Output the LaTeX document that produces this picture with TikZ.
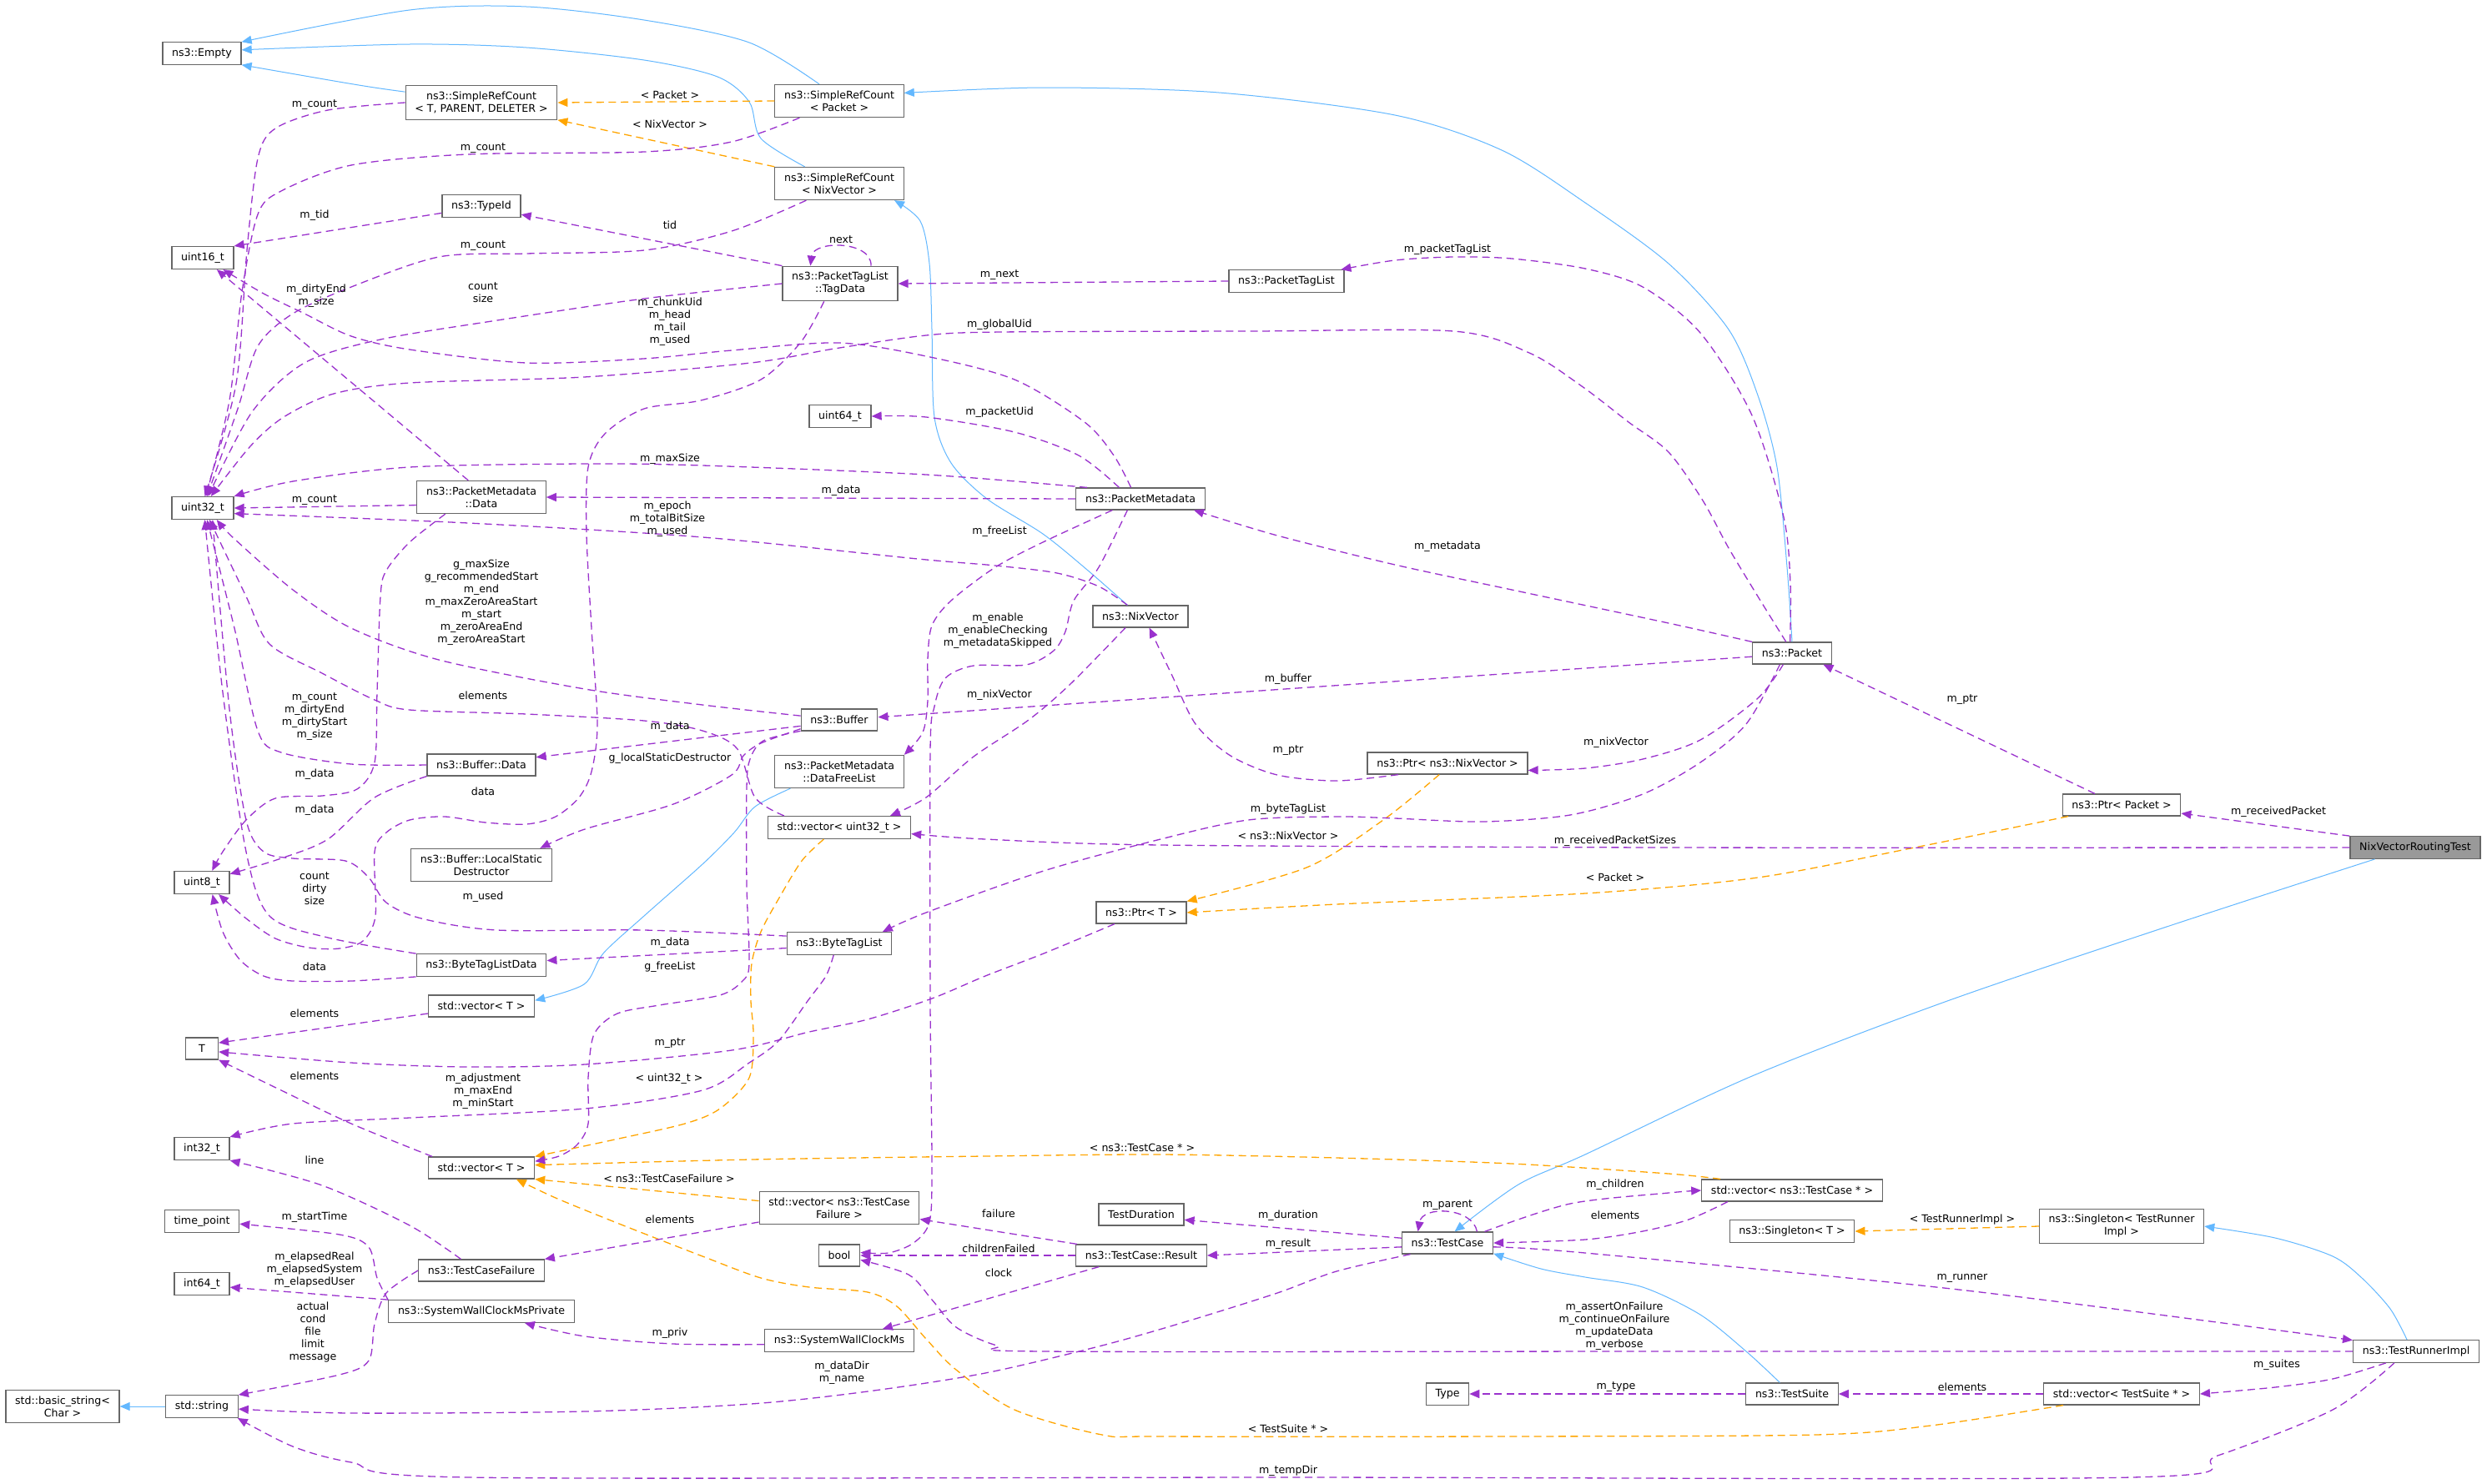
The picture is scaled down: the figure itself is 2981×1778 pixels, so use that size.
\documentclass[tikz,border=0pt]{standalone}
\usepackage{fontspec}
\newfontfamily\dxfont{DejaVu Sans}
\usetikzlibrary{arrows.meta}
\definecolor{dxpurple}{HTML}{9A32CD}
\definecolor{dxorange}{HTML}{FFA500}
\definecolor{dxblue}{HTML}{63B8FF}
\definecolor{dxborder}{HTML}{666666}
\definecolor{dxfill}{HTML}{999999}
\begin{document}
\begin{tikzpicture}[x=0.5pt, y=-0.5pt,
    cls/.style={draw=dxborder, fill=white, line width=0.6pt, font=\dxfont\fontsize{6.3}{7.5}\selectfont,
      align=center, inner xsep=5.6pt, inner ysep=3.6pt, minimum height=13pt},
    clscur/.style={cls, fill=dxfill},
    lbl/.style={font=\dxfont\fontsize{6.3}{7.5}\selectfont, align=center, inner sep=0pt},
    useline/.style={draw=dxpurple, line width=0.65pt, dash pattern=on 4.5pt off 2.8pt,
      -{Triangle[length=6pt,width=5pt]}},
    tmplline/.style={useline, draw=dxorange},
    inhline/.style={draw=dxblue, line width=0.5pt, -{Triangle[length=6pt,width=5pt]}}]
  \path[use as bounding box, fill=white] (0,0) rectangle (2981,1778);
  % nodes
  \node[cls] (empty) at (242,64) {ns3::Empty};
  \node[cls] (srct) at (577,123) {ns3::SimpleRefCount\\< T, PARENT, DELETER >};
  \node[cls] (srcpkt) at (1006,121) {ns3::SimpleRefCount\\< Packet >};
  \node[cls] (srcnix) at (1006,220) {ns3::SimpleRefCount\\< NixVector >};
  \node[cls] (typeid) at (577,247) {ns3::TypeId};
  \node[cls] (uint16) at (243,309) {uint16\_t};
  \node[cls] (tagdata) at (1007,340) {ns3::PacketTagList\\::TagData};
  \node[cls] (ptaglist) at (1542,337) {ns3::PacketTagList};
  \node[cls] (uint64) at (1007,499) {uint64\_t};
  \node[cls] (pmdata) at (577,596) {ns3::PacketMetadata\\::Data};
  \node[cls] (uint32) at (243,609) {uint32\_t};
  \node[cls] (pmeta) at (1367,598) {ns3::PacketMetadata};
  \node[cls] (nixvec) at (1367,739) {ns3::NixVector};
  \node[cls] (packet) at (2148,783) {ns3::Packet};
  \node[cls] (buffer) at (1006,863) {ns3::Buffer};
  \node[cls] (bufdata) at (577,917) {ns3::Buffer::Data};
  \node[cls] (freelist) at (1006,925) {ns3::PacketMetadata\\::DataFreeList};
  \node[cls] (ptrnix) at (1735,915) {ns3::Ptr< ns3::NixVector >};
  \node[cls] (ptrpkt) at (2543,965) {ns3::Ptr< Packet >};
  \node[cls] (vecu32) at (1006,992) {std::vector< uint32\_t >};
  \node[clscur] (nvrt) at (2895,1016) {NixVectorRoutingTest};
  \node[cls] (lsd) at (577,1037) {ns3::Buffer::LocalStatic\\Destructor};
  \node[cls] (uint8) at (242,1058) {uint8\_t};
  \node[cls] (ptrt) at (1368,1094) {ns3::Ptr< T >};
  \node[cls] (btl) at (1006,1131) {ns3::ByteTagList};
  \node[cls] (btldata) at (577,1157) {ns3::ByteTagListData};
  \node[cls] (vect1) at (577,1206) {std::vector< T >};
  \node[cls, minimum width=19.5pt] (tnode) at (242,1257) {T};
  \node[cls] (int32) at (242,1377) {int32\_t};
  \node[cls] (vect2) at (577,1400) {std::vector< T >};
  \node[cls] (vectc) at (2148,1427) {std::vector< ns3::TestCase * >};
  \node[cls] (vectcf) at (1006,1448) {std::vector< ns3::TestCase\\Failure >};
  \node[cls] (tduration) at (1368,1456) {TestDuration};
  \node[cls] (timepoint) at (242,1464) {time\_point};
  \node[cls] (singtri) at (2543,1470) {ns3::Singleton< TestRunner\\Impl >};
  \node[cls] (singt) at (2148,1476) {ns3::Singleton< T >};
  \node[cls] (testcase) at (1735,1490) {ns3::TestCase};
  \node[cls] (tcresult) at (1368,1505) {ns3::TestCase::Result};
  \node[cls] (boolnode) at (1006,1505) {bool};
  \node[cls] (tcfailure) at (577,1523) {ns3::TestCaseFailure};
  \node[cls] (int64) at (242,1539) {int64\_t};
  \node[cls] (swcmp) at (577,1572) {ns3::SystemWallClockMsPrivate};
  \node[cls] (swcm) at (1006,1607) {ns3::SystemWallClockMs};
  \node[cls] (tri) at (2896,1620) {ns3::TestRunnerImpl};
  \node[cls] (typenode) at (1735,1671) {Type};
  \node[cls] (tsuite) at (2148,1671) {ns3::TestSuite};
  \node[cls] (vects) at (2543,1671) {std::vector< TestSuite * >};
  \node[cls] (bstring) at (75,1686) {std::basic\_string<\\Char >};
  \node[cls] (string) at (242,1686) {std::string};
  % inheritance
  \draw[inhline] (srct.172) .. controls (440,104) .. (empty.south east);
  \draw[inhline] plot[smooth] coordinates {(srcpkt.140) (898,51) (772,24) (631,8) (491,12) (empty.north east)};
  \draw[inhline] plot[smooth] coordinates {(srcnix.154) (912,166) (898,122) (860,92) (772,72) (631,57) (491,53) (empty.5)};
  \draw[inhline] plot[smooth] coordinates {(packet.north) (2142,680) (2130,560) (2107,474) (2072,395) (2000,316) (1900,243) (1800,180) (1672,138) (1461,111) (1251,105) (srcpkt.7)};
  \draw[inhline] plot[smooth] coordinates {(nixvec.139) (1303,683) (1250,640) (1183,598) (1140,555) (1120,500) (1117,395) (1114,316) (1103,265) (srcnix.-17)};
  \draw[inhline] plot[smooth] coordinates {(freelist.199) (905,967) (880,998) (842,1036) (772,1098) (723,1143) (700,1180) (vect1.6)};
  \draw[inhline] plot[smooth] coordinates {(nvrt.196) (2600,1110) (2334,1200) (2100,1290) (1900,1384) (1820,1420) (testcase.58)};
  \draw[inhline] plot[smooth] coordinates {(tsuite.137) (2093,1620) (2038,1576) (1969,1543) (1900,1531) (1847,1521) (testcase.-13)};
  \draw[inhline] plot[smooth] coordinates {(tri.128) (2865,1569) (2831,1532) (2796,1506) (2727,1484) (singtri.east)};
  \draw[inhline] (string.west) -- (bstring.east);
  % templates
  \draw[tmplline] (srcpkt.west) -- (srct.east);
  \draw[tmplline] (srcnix.north west) -- (srct.south east);
  \draw[tmplline] plot[smooth] coordinates {(vecu32.217) (961,1032) (933,1078) (912,1117) (901,1155) (900,1200) (903,1240) (898,1292) (863,1329) (821,1347) (737,1366) (vect2.north east)};
  \draw[tmplline] plot[smooth] coordinates {(vectc.171) (2000,1407) (1812,1395) (1602,1388) (1391,1384) (1181,1386) (900,1390) (vect2.3)};
  \draw[tmplline] (vectcf.175) -- (vect2.south east);
  \draw[tmplline] plot[smooth] coordinates {(vects.191) (2314,1709) (2176,1720) (1800,1722) (1391,1722) (1321,1720) (1216,1690) (1146,1642) (1110,1605) (1075,1566) (1040,1549) (970,1543) (912,1532) (842,1506) (737,1465) (666,1436) (vect2.-18)};
  \draw[tmplline] plot[smooth] coordinates {(ptrnix.234) (1658,983) (1566,1040) (ptrt.north east)};
  \draw[tmplline] plot[smooth] coordinates {(ptrpkt.192) (2300,1015) (2107,1052) (1900,1071) (1602,1084) (ptrt.east)};
  \draw[tmplline] (singtri.west) -- (singt.east);
  % members
  \draw[useline] plot[smooth] coordinates {(srct.west) (393,132) (330,154) (309,190) (296,300) (283,460) (uint32.80)};
  \draw[useline] plot[smooth] coordinates {(srcpkt.203) (877,170) (772,182) (561,185) (421,198) (337,229) (309,257) (290,350) (275,480) (uint32.75)};
  \draw[useline] plot[smooth] coordinates {(srcnix.207) (877,277) (772,300) (631,304) (526,308) (421,344) (351,376) (309,415) (285,490) (uint32.70)};
  \draw[useline] plot[smooth] coordinates {(tagdata.west) (772,358) (596,384) (456,407) (365,435) (302,494) (uint32.65)};
  \draw[useline] plot[smooth] coordinates {(packet.118) (2107,715) (2072,657) (2041,600) (2000,542) (1952,506) (1896,463) (1833,423) (1742,397) (1500,397) (1200,398) (1110,402) (1000,418) (900,435) (700,452) (491,459) (400,472) (340,500) (300,535) (uint32.55)};
  \draw[useline] plot[smooth] coordinates {(pmeta.168) (1110,569) (842,558) (700,556) (491,560) (351,577) (uint32.north east)};
  \draw[useline] (pmdata.187) -- (uint32.east);
  \draw[useline] (pmeta.west) -- (pmdata.east);
  \draw[useline] plot[smooth] coordinates {(nixvec.139) (1317,703) (1267,687) (1193,678) (1100,670) (842,644) (561,627) (uint32.-10)};
  \draw[useline] plot[smooth] coordinates {(buffer.174) (842,845) (701,826) (526,791) (421,753) (351,707) (281,646) (uint32.-40)};
  \draw[useline] plot[smooth] coordinates {(vecu32.168) (905,956) (884,898) (842,876) (772,864) (631,856) (491,851) (449,839) (386,807) (323,772) (295,715) (uint32.-60)};
  \draw[useline] plot[smooth] coordinates {(bufdata.west) (421,916) (337,902) (309,876) (281,753) (uint32.-70)};
  \draw[useline] plot[smooth] coordinates {(btldata.north west) (393,1124) (323,1098) (295,1021) (267,830) (uint32.-80)};
  \draw[useline] plot[smooth] coordinates {(btl.172) (772,1115) (596,1115) (505,1101) (463,1082) (442,1052) (414,1032) (351,1029) (316,1021) (295,983) (275,850) (uint32.-50)};
  \draw[useline] (typeid.190) -- (uint16.north east);
  \draw[useline] (pmdata.128) -- (uint16.-40);
  \draw[useline] plot[smooth] coordinates {(pmeta.130) (1335,546) (1300,506) (1216,455) (1110,427) (1005,411) (877,420) (771,430) (631,435) (491,419) (421,403) (365,376) (316,352) (uint16.-30)};
  \draw[useline] (tagdata.north west) -- (typeid.-12);
  \draw[useline] (tagdata.30) .. controls (1045,288) and (975,288) .. (tagdata.149);
  \draw[useline] plot[smooth] coordinates {(pmeta.152) (1293,546) (1216,518) (1110,500) (uint64.east)};
  \draw[useline] plot[smooth] coordinates {(packet.100) (2146,700) (2138,620) (2100,498) (2038,399) (1969,344) (1900,322) (1812,310) (1742,308) (1672,312) (ptaglist.12)};
  \draw[useline] (ptaglist.west) -- (tagdata.east);
  \draw[useline] plot[smooth] coordinates {(packet.north west) (2000,747) (1812,707) (1672,677) (1531,642) (pmeta.-12)};
  \draw[useline] plot[smooth] coordinates {(ptrnix.193) (1602,936) (1531,929) (1475,906) (1433,868) (1405,810) (nixvec.-52)};
  \draw[useline] (ptrpkt.157) -- (packet.-20);
  \draw[useline] (nvrt.170) -- (ptrpkt.-8);
  \draw[useline] plot[smooth] coordinates {(nvrt.west) (2000,1016) (1391,1013) (1181,1006) (vecu32.-5)};
  \draw[useline] (packet.185) -- (buffer.4);
  \draw[useline] plot[smooth] coordinates {(packet.232) (2107,837) (2038,887) (1969,910) (1900,921) (ptrnix.-5)};
  \draw[useline] plot[smooth] coordinates {(packet.223) (2093,868) (2038,914) (1969,952) (1882,977) (1777,985) (1672,981) (1602,979) (1496,983) (1391,1006) (1251,1044) (1110,1094) (btl.15)};
  \draw[useline] plot[smooth] coordinates {(nixvec.217) (1283,820) (1233,863) (1167,907) (1110,956) (vecu32.13)};
  \draw[useline] plot[smooth] coordinates {(pmeta.202) (1250,650) (1193,680) (1140,720) (1117,750) (1112,790) (1112,840) (1106,878) (freelist.north east)};
  \draw[useline] plot[smooth] coordinates {(pmeta.221) (1317,680) (1287,720) (1277,757) (1263,780) (1230,797) (1167,798) (1133,813) (1120,847) (1115,900) (1115,1200) (1117,1400) (1114,1465) (1095,1490) (1065,1502) (boolnode.8)};
  \draw[useline] (buffer.189) -- (bufdata.8);
  \draw[useline] plot[smooth] coordinates {(buffer.193) (912,891) (891,906) (877,929) (807,964) (701,994) (lsd.16)};
  \draw[useline] plot[smooth] coordinates {(buffer.196) (915,888) (899,910) (895,944) (895,1060) (898,1155) (890,1176) (863,1193) (790,1205) (740,1215) (712,1240) (705,1292) (705,1347) (692,1372) (670,1386) (vect2.7)};
  \draw[useline] plot[smooth] coordinates {(tagdata.228) (960,410) (912,455) (840,480) (772,490) (725,520) (705,560) (703,640) (709,753) (716,868) (709,925) (694,956) (666,979) (631,988) (582,986) (533,979) (491,983) (463,998) (449,1021) (450,1098) (435,1128) (407,1137) (370,1136) (330,1125) (295,1101) (uint8.-35)};
  \draw[useline] plot[smooth] coordinates {(pmdata.205) (491,650) (463,684) (456,715) (452,830) (449,914) (428,946) (386,954) (330,957) (295,983) (267,1021) (uint8.49)};
  \draw[useline] plot[smooth] coordinates {(bufdata.south west) (449,956) (393,1006) (337,1029) (uint8.17)};
  \draw[useline] plot[smooth] coordinates {(btldata.south west) (421,1176) (351,1176) (316,1170) (288,1151) (267,1117) (uint8.-48)};
  \draw[useline] (btl.185) -- (btldata.4);
  \draw[useline] plot[smooth] coordinates {(btl.244) (990,1170) (968,1200) (933,1248) (898,1274) (842,1307) (701,1329) (491,1340) (351,1347) (int32.north east)};
  \draw[useline] plot[smooth] coordinates {(ptrt.203) (1251,1143) (1181,1170) (1117,1197) (1040,1222) (970,1237) (877,1259) (701,1276) (561,1279) (421,1274) (tnode.-11)};
  \draw[useline] (vect1.188) -- (tnode.19);
  \draw[useline] plot[smooth] coordinates {(vect2.167) (421,1347) (337,1307) (tnode.south east)};
  \draw[useline] plot[smooth] coordinates {(tcfailure.151) (491,1469) (386,1421) (int32.south east)};
  \draw[useline] (vectcf.190) -- (tcfailure.north east);
  \draw[useline] plot[smooth] coordinates {(swcmp.173) (452,1532) (442,1495) (407,1480) (timepoint.-4)};
  \draw[useline] (swcmp.north west) -- (int64.-7);
  \draw[useline] plot[smooth] coordinates {(tcfailure.west) (463,1550) (449,1587) (442,1631) (407,1648) (string.north east)};
  \draw[useline] plot[smooth] coordinates {(swcm.183) (807,1611) (701,1602) (swcmp.-15)};
  \draw[useline] plot[smooth] coordinates {(testcase.197) (1602,1524) (1531,1550) (1426,1583) (1321,1613) (1181,1646) (1040,1668) (900,1683) (701,1692) (421,1694) (string.-4)};
  \draw[useline] plot[smooth] coordinates {(tri.208) (2796,1690) (2658,1745) (2555,1771) (1545,1771) (561,1771) (421,1753) (351,1734) (string.-18)};
  \draw[useline] plot[smooth] coordinates {(tri.west) (2000,1620) (1251,1620) (1195,1613) (1146,1591) (1117,1558) (1089,1528) (boolnode.-12)};
  \draw[useline] plot[smooth] coordinates {(testcase.-5) (1900,1502) (2348,1546) (tri.170)};
  \draw[useline] plot[smooth] coordinates {(tri.201) (2796,1653) (2727,1663) (vects.east)};
  \draw[useline] (vects.west) -- (tsuite.east);
  \draw[useline] (tsuite.west) -- (typenode.east);
  \draw[useline] plot[smooth] coordinates {(testcase.17) (1882,1443) (2000,1430) (vectc.west)};
  \draw[useline] plot[smooth] coordinates {(vectc.190) (2024,1462) (1969,1476) (1900,1486) (testcase.east)};
  \draw[useline] (testcase.21) .. controls (1765,1447) and (1705,1445) .. (testcase.159);
  \draw[useline] (testcase.174) -- (tduration.-7);
  \draw[useline] (testcase.185) -- (tcresult.east);
  \draw[useline] (tcresult.170) -- (vectcf.-8);
  \draw[useline] (tcresult.west) -- (boolnode.east);
  \draw[useline] (tcresult.195) -- (swcm.15);
  % labels
  \node[lbl] (lpkt1) at (803,114) {< Packet >};
  \node[lbl] (lnix1) at (803,149) {< NixVector >};
  \node[lbl] (lcnt1) at (377,126) {m\_count};
  \node[lbl] (lcnt2) at (579,178) {m\_count};
  \node[lbl] (ltid1) at (377,258) {m\_tid};
  \node[lbl] (ltid2) at (803,270) {tid};
  \node[lbl] (lnext) at (1008,287) {next};
  \node[lbl] (lcnt3) at (579,295) {m\_count};
  \node[lbl] (lptl) at (1735,299) {m\_packetTagList};
  \node[lbl] (lmnext) at (1198,330) {m\_next};
  \node[lbl] (lcntsz) at (579,351) {count\\size};
  \node[lbl] (ldirty1) at (379,355) {m\_dirtyEnd\\m\_size};
  \node[lbl] (lchunk) at (803,386) {m\_chunkUid\\m\_head\\m\_tail\\m\_used};
  \node[lbl] (lguid) at (1198,389) {m\_globalUid};
  \node[lbl] (lpuid) at (1198,494) {m\_packetUid};
  \node[lbl] (lmax) at (803,550) {m\_maxSize};
  \node[lbl] (lcnt4) at (377,600) {m\_count};
  \node[lbl] (ldata1) at (1008,588) {m\_data};
  \node[lbl] (lepoch) at (800,622) {m\_epoch\\m\_totalBitSize\\m\_used};
  \node[lbl] (lfree) at (1198,637) {m\_freeList};
  \node[lbl] (lmeta) at (1735,655) {m\_metadata};
  \node[lbl] (lgmax) at (577,722) {g\_maxSize\\g\_recommendedStart\\m\_end\\m\_maxZeroAreaStart\\m\_start\\m\_zeroAreaEnd\\m\_zeroAreaStart};
  \node[lbl] (lenable) at (1196,756) {m\_enable\\m\_enableChecking\\m\_metadataSkipped};
  \node[lbl] (lbuf) at (1544,814) {m\_buffer};
  \node[lbl] (lnixv1) at (1198,833) {m\_nixVector};
  \node[lbl] (lelem1) at (579,834) {elements};
  \node[lbl] (ldirty2) at (377,859) {m\_count\\m\_dirtyEnd\\m\_dirtyStart\\m\_size};
  \node[lbl] (ldata2) at (803,871) {m\_data};
  \node[lbl] (lnixv2) at (1937,890) {m\_nixVector};
  \node[lbl] (lptr1) at (1544,900) {m\_ptr};
  \node[lbl] (lptr2) at (2352,839) {m\_ptr};
  \node[lbl] (llsd) at (803,909) {g\_localStaticDestructor};
  \node[lbl] (ldata3) at (377,928) {m\_data};
  \node[lbl] (ldata4) at (579,949) {data};
  \node[lbl] (ldata5) at (377,971) {m\_data};
  \node[lbl] (lbtl) at (1544,970) {m\_byteTagList};
  \node[lbl] (lrecv) at (2731,973) {m\_receivedPacket};
  \node[lbl] (lnix2) at (1544,1002) {< ns3::NixVector >};
  \node[lbl] (lrecvs) at (1936,1008) {m\_receivedPacketSizes};
  \node[lbl] (lpkt2) at (1936,1052) {< Packet >};
  \node[lbl] (lcds) at (377,1065) {count\\dirty\\size};
  \node[lbl] (lused) at (579,1075) {m\_used};
  \node[lbl] (ldata6) at (803,1130) {m\_data};
  \node[lbl] (lgfree) at (803,1159) {g\_freeList};
  \node[lbl] (ldata7) at (377,1159) {data};
  \node[lbl] (lelem2) at (377,1215) {elements};
  \node[lbl] (lptr3) at (803,1251) {m\_ptr};
  \node[lbl] (lelem3) at (377,1290) {elements};
  \node[lbl] (lu32) at (802,1293) {< uint32\_t >};
  \node[lbl] (ladj) at (579,1308) {m\_adjustment\\m\_maxEnd\\m\_minStart};
  \node[lbl] (ltc) at (1369,1376) {< ns3::TestCase * >};
  \node[lbl] (lline) at (377,1391) {line};
  \node[lbl] (ltcf) at (802,1413) {< ns3::TestCaseFailure >};
  \node[lbl] (lchild) at (1936,1420) {m\_children};
  \node[lbl] (lparent) at (1735,1445) {m\_parent};
  \node[lbl] (lfail) at (1197,1455) {failure};
  \node[lbl] (ldur) at (1544,1457) {m\_duration};
  \node[lbl] (lelem4) at (1936,1457) {elements};
  \node[lbl] (lstart) at (377,1459) {m\_startTime};
  \node[lbl] (ltri) at (2352,1462) {< TestRunnerImpl >};
  \node[lbl] (lelem5) at (803,1462) {elements};
  \node[lbl] (lres) at (1544,1491) {m\_result};
  \node[lbl] (lcfail) at (1197,1497) {childrenFailed};
  \node[lbl] (lelapsed) at (377,1522) {m\_elapsedReal\\m\_elapsedSystem\\m\_elapsedUser};
  \node[lbl] (lclock) at (1197,1526) {clock};
  \node[lbl] (lrunner) at (2352,1532) {m\_runner};
  \node[lbl] (lassert) at (1935,1590) {m\_assertOnFailure\\m\_continueOnFailure\\m\_updateData\\m\_verbose};
  \node[lbl] (lactual) at (375,1597) {actual\\cond\\file\\limit\\message};
  \node[lbl] (lpriv) at (803,1598) {m\_priv};
  \node[lbl] (lsuites) at (2729,1636) {m\_suites};
  \node[lbl] (ldir) at (1009,1646) {m\_dataDir\\m\_name};
  \node[lbl] (ltype) at (1937,1663) {m\_type};
  \node[lbl] (lelem6) at (2352,1663) {elements};
  \node[lbl] (lts) at (1544,1713) {< TestSuite * >};
  \node[lbl] (ltemp) at (1544,1763) {m\_tempDir};
\end{tikzpicture}
\end{document}
